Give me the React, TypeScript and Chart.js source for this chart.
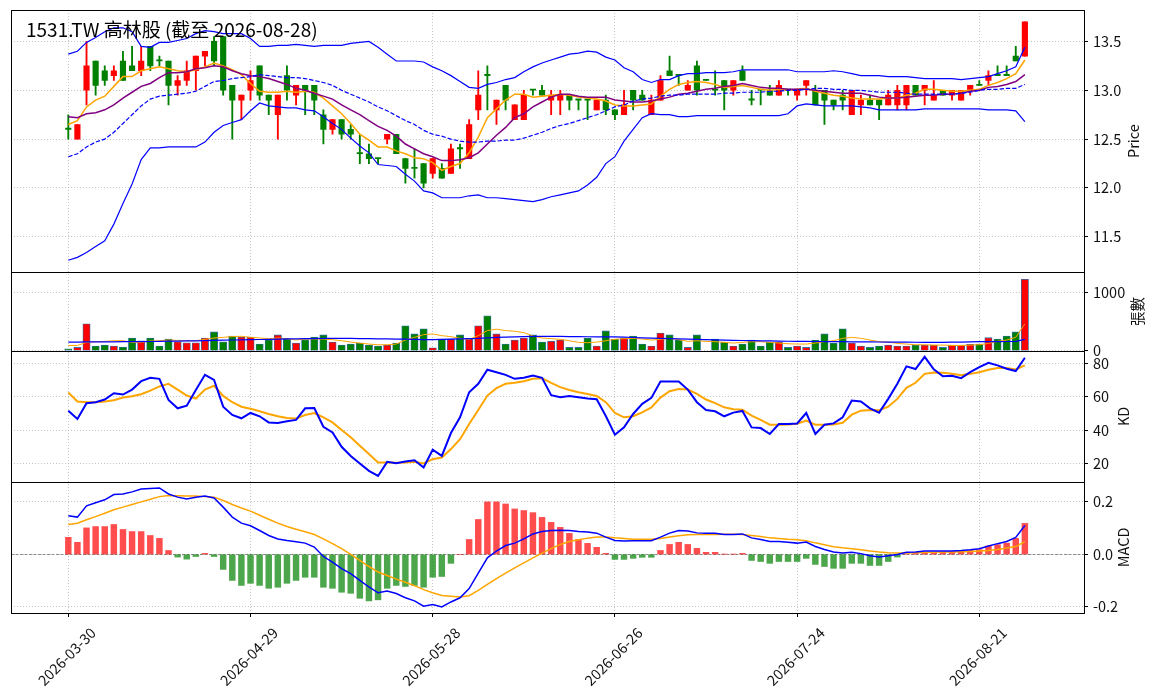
import React, { useEffect, useRef } from 'react';
import { Chart, registerables } from 'chart.js';

Chart.register(...registerables);

const TITLE = '1531.TW 高林股 (截至 2026-08-28)';
const TICK_POS = [0, 20, 40, 60, 80, 100];
const TICK_LABELS = ['2026-03-30', '2026-04-29', '2026-05-28', '2026-06-26', '2026-07-24', '2026-08-21'];

const PRICE_TICKS = [11.5, 12.0, 12.5, 13.0, 13.5];
const VOL_TICKS = [0, 1000];
const KD_TICKS = [20, 40, 60, 80];
const MACD_TICKS = [-0.2, 0.0, 0.2];

const OPEN = [
  12.6, 12.5, 13.0, 13.3, 13.2, 13.15, 13.3, 13.25, 13.2, 13.45,
  13.3, 13.3, 13.05, 13.1, 13.2, 13.35, 13.5, 13.55, 13.05, 12.9,
  13.0, 13.25, 12.95, 12.75, 13.15, 12.95, 13.05, 13.05, 12.75, 12.6,
  12.7, 12.6, 12.35, 12.35, 12.3, 12.5, 12.55, 12.3, 12.2, 12.25,
  12.15, 12.2, 12.15, 12.4, 12.3, 12.8, 13.15, 12.8, 13.05, 12.7,
  12.7, 13.0, 13.0, 12.9, 12.9, 12.95, 12.9, 12.9, 12.8, 12.9,
  12.8, 12.75, 13.0, 12.95, 12.75, 12.9, 13.2, 13.15, 13.0, 13.25,
  13.1, 13.0, 13.1, 13.0, 13.2, 12.9, 13.0, 13.0, 12.95, 13.0,
  12.95, 13.05, 13.0, 13.0, 12.9, 12.95, 12.75, 12.85, 12.9, 12.9,
  12.85, 12.85, 12.85, 13.05, 13.0, 12.9, 13.0, 12.95, 12.9, 13.0,
  13.05, 13.1, 13.15, 13.15, 13.35, 13.35,
];
const HIGH = [
  12.75, 12.65, 13.5, 13.3, 13.25, 13.25, 13.4, 13.45, 13.45, 13.45,
  13.35, 13.3, 13.15, 13.3, 13.35, 13.4, 13.55, 13.55, 13.05, 12.95,
  13.2, 13.25, 12.95, 12.95, 13.25, 13.05, 13.05, 13.05, 12.8, 12.7,
  12.7, 12.65, 12.55, 12.45, 12.3, 12.55, 12.55, 12.3, 12.4, 12.25,
  12.3, 12.25, 12.45, 12.45, 12.7, 13.2, 13.25, 12.9, 13.05, 12.85,
  13.0, 13.0, 13.05, 13.0, 13.0, 12.95, 12.9, 12.9, 12.9, 12.95,
  12.8, 13.0, 13.0, 13.0, 12.95, 13.15, 13.35, 13.15, 13.1, 13.3,
  13.1, 13.2, 13.1, 13.1, 13.25, 13.0, 13.0, 13.05, 13.1, 13.0,
  13.0, 13.1, 13.05, 13.0, 12.9, 13.0, 13.0, 12.95, 12.95, 12.9,
  13.0, 13.05, 13.05, 13.05, 13.05, 13.1, 13.0, 13.0, 13.0, 13.05,
  13.1, 13.2, 13.25, 13.25, 13.45, 13.7,
];
const LOW = [
  12.5, 12.5, 12.85, 12.95, 13.05, 13.1, 13.1, 13.2, 13.15, 13.2,
  13.25, 12.85, 12.95, 13.05, 13.0, 13.25, 13.25, 12.95, 12.5, 12.7,
  12.9, 12.9, 12.75, 12.5, 12.9, 12.85, 12.75, 12.75, 12.45, 12.55,
  12.5, 12.5, 12.25, 12.25, 12.25, 12.45, 12.35, 12.05, 12.1, 12.0,
  12.1, 12.1, 12.15, 12.2, 12.3, 12.7, 12.8, 12.65, 12.8, 12.7,
  12.7, 12.95, 12.95, 12.75, 12.75, 12.8, 12.8, 12.7, 12.8, 12.75,
  12.7, 12.75, 12.8, 12.9, 12.75, 12.9, 13.15, 13.05, 13.0, 12.95,
  13.1, 12.95, 12.8, 12.95, 13.1, 12.85, 12.85, 12.95, 12.95, 12.95,
  12.9, 12.95, 12.85, 12.65, 12.8, 12.8, 12.75, 12.75, 12.85, 12.7,
  12.85, 12.8, 12.8, 12.95, 12.85, 12.9, 12.95, 12.9, 12.9, 12.95,
  13.05, 13.05, 13.15, 13.15, 13.3, 13.35,
];
const CLOSE = [
  12.6, 12.65, 13.25, 13.05, 13.1, 13.2, 13.1, 13.2, 13.3, 13.25,
  13.3, 13.05, 13.1, 13.2, 13.35, 13.4, 13.3, 13.0, 12.9, 12.95,
  13.1, 12.95, 12.9, 12.95, 13.0, 13.05, 13.0, 12.9, 12.6, 12.7,
  12.55, 12.55, 12.35, 12.3, 12.3, 12.55, 12.35, 12.2, 12.2, 12.05,
  12.3, 12.1, 12.4, 12.4, 12.65, 12.95, 13.15, 12.9, 12.9, 12.85,
  12.95, 13.0, 12.95, 12.95, 12.95, 12.9, 12.9, 12.9, 12.9, 12.8,
  12.75, 12.85, 12.9, 12.9, 12.9, 13.1, 13.15, 13.15, 13.05, 13.0,
  13.1, 13.0, 13.0, 13.1, 13.1, 12.9, 13.0, 12.95, 13.05, 13.0,
  13.0, 13.1, 12.85, 12.9, 12.85, 12.9, 13.0, 12.9, 12.85, 12.85,
  12.95, 13.0, 13.05, 12.95, 13.05, 12.95, 12.95, 13.0, 13.0, 13.05,
  13.05, 13.15, 13.15, 13.15, 13.3, 13.7,
];

const MA5 = [
  12.65, 12.69, 12.83, 12.90, 12.94, 13.04, 13.14, 13.14, 13.20, 13.22,
  13.24, 13.22, 13.20, 13.19, 13.21, 13.24, 13.28, 13.25, 13.21, 13.16,
  13.07, 12.99, 12.98, 12.98, 12.99, 12.98, 12.99, 12.98, 12.92, 12.84,
  12.76, 12.66, 12.55, 12.49, 12.42, 12.42, 12.38, 12.35, 12.31, 12.30,
  12.26, 12.18, 12.22, 12.25, 12.36, 12.52, 12.72, 12.81, 12.90, 12.96,
  12.96, 12.93, 12.94, 12.95, 12.96, 12.95, 12.93, 12.92, 12.91, 12.89,
  12.85, 12.84, 12.84, 12.85, 12.86, 12.94, 13.01, 13.06, 13.08, 13.09,
  13.08, 13.06, 13.03, 13.04, 13.05, 13.03, 13.01, 13.00, 13.01, 13.00,
  13.01, 13.02, 12.99, 12.97, 12.95, 12.94, 12.92, 12.91, 12.91, 12.91,
  12.92, 12.92, 12.95, 12.97, 13.01, 13.01, 13.00, 12.99, 12.99, 13.00,
  13.01, 13.05, 13.08, 13.12, 13.17, 13.31,
];
const MA10 = [
  12.73, 12.72, 12.76, 12.77, 12.80, 12.85, 12.92, 12.98, 13.04, 13.07,
  13.13, 13.18, 13.18, 13.19, 13.22, 13.23, 13.25, 13.24, 13.20, 13.17,
  13.15, 13.14, 13.12, 13.09, 13.06, 13.02, 13.00, 12.97, 12.94, 12.91,
  12.85, 12.80, 12.75, 12.69, 12.63, 12.59, 12.53, 12.45, 12.40, 12.35,
  12.32, 12.28, 12.28, 12.29, 12.31, 12.36, 12.45, 12.54, 12.62, 12.72,
  12.76, 12.83, 12.88, 12.93, 12.96, 12.96, 12.94, 12.93, 12.93, 12.93,
  12.90, 12.89, 12.88, 12.88, 12.89, 12.91, 12.93, 12.96, 12.97, 12.99,
  13.01, 13.02, 13.04, 13.05, 13.07, 13.05, 13.03, 13.02, 13.02, 13.01,
  13.01, 13.01, 13.00, 12.99, 12.98, 12.97, 12.97, 12.97, 12.95, 12.93,
  12.92, 12.92, 12.93, 12.94, 12.95, 12.95, 12.96, 12.96, 12.97, 12.99,
  13.00, 13.03, 13.04, 13.06, 13.09, 13.16,
];
const BB_UPPER = [
  13.37, 13.40, 13.49, 13.54, 13.60, 13.64, 13.64, 13.60, 13.45, 13.44,
  13.49, 13.49, 13.51, 13.53, 13.58, 13.61, 13.60, 13.58, 13.58, 13.58,
  13.53, 13.45, 13.45, 13.46, 13.46, 13.47, 13.46, 13.45, 13.46, 13.46,
  13.46, 13.48, 13.49, 13.50, 13.44, 13.37, 13.30, 13.30, 13.30, 13.29,
  13.24, 13.20, 13.15, 13.09, 13.03, 13.02, 13.06, 13.08, 13.11, 13.13,
  13.19, 13.24, 13.28, 13.31, 13.34, 13.37, 13.38, 13.40, 13.39, 13.34,
  13.31, 13.23, 13.19, 13.11, 13.08, 13.11, 13.11, 13.15, 13.17, 13.17,
  13.18, 13.18, 13.18, 13.19, 13.21, 13.21, 13.21, 13.21, 13.21, 13.21,
  13.19, 13.19, 13.19, 13.19, 13.20, 13.19, 13.17, 13.15, 13.15, 13.15,
  13.14, 13.14, 13.14, 13.13, 13.12, 13.12, 13.12, 13.12, 13.11, 13.12,
  13.13, 13.14, 13.17, 13.20, 13.24, 13.44,
];
const BB_MID = [
  12.32, 12.35, 12.42, 12.47, 12.50, 12.57, 12.66, 12.75, 12.84, 12.91,
  12.94, 12.95, 12.96, 12.97, 12.99, 13.04, 13.09, 13.10, 13.12, 13.13,
  13.14, 13.16, 13.15, 13.14, 13.13, 13.13, 13.12, 13.10, 13.08, 13.05,
  13.00, 12.96, 12.92, 12.88, 12.83, 12.79, 12.74, 12.69, 12.65, 12.59,
  12.55, 12.53, 12.50, 12.48, 12.47, 12.47, 12.48, 12.48, 12.49, 12.49,
  12.51, 12.54, 12.57, 12.61, 12.64, 12.66, 12.69, 12.72, 12.75, 12.79,
  12.83, 12.85, 12.89, 12.91, 12.92, 12.94, 12.95, 12.95, 12.96, 12.96,
  12.96, 12.96, 12.97, 12.97, 12.98, 12.98, 12.98, 12.99, 12.99, 13.00,
  13.00, 13.01, 13.02, 13.02, 13.01, 13.01, 13.00, 13.00, 12.99, 12.98,
  12.98, 12.98, 12.97, 12.96, 12.96, 12.96, 12.96, 12.96, 12.97, 12.98,
  13.00, 13.01, 13.01, 13.02, 13.02, 13.06,
];
const BB_LOWER = [
  11.26, 11.29, 11.34, 11.40, 11.46, 11.63, 11.84, 12.04, 12.29, 12.41,
  12.41, 12.42, 12.42, 12.42, 12.42, 12.47, 12.57, 12.64, 12.67, 12.70,
  12.79, 12.87, 12.84, 12.83, 12.82, 12.82, 12.80, 12.79, 12.73, 12.66,
  12.60, 12.51, 12.43, 12.36, 12.24, 12.23, 12.22, 12.14, 12.07, 11.97,
  11.95, 11.90, 11.90, 11.90, 11.92, 11.93, 11.90, 11.90, 11.89, 11.88,
  11.87, 11.86, 11.88, 11.91, 11.93, 11.95, 11.97, 12.03, 12.11, 12.25,
  12.32, 12.48, 12.60, 12.72, 12.76, 12.75, 12.75, 12.73, 12.73, 12.74,
  12.74, 12.74, 12.74, 12.74, 12.74, 12.74, 12.74, 12.74, 12.74, 12.76,
  12.84, 12.86, 12.85, 12.84, 12.84, 12.84, 12.84, 12.83, 12.82, 12.80,
  12.80, 12.80, 12.80, 12.80, 12.81, 12.81, 12.81, 12.81, 12.81, 12.81,
  12.81, 12.80, 12.80, 12.80, 12.79, 12.68,
];

const VOLUME = [
  35, 58, 462, 81, 98, 81, 64, 220, 173, 220,
  81, 202, 156, 139, 139, 220, 324, 156, 254, 237,
  237, 116, 185, 272, 202, 133, 191, 237, 272, 150,
  98, 116, 133, 98, 81, 98, 133, 428, 289, 376,
  52, 202, 202, 272, 202, 428, 601, 289, 116, 185,
  220, 272, 150, 162, 185, 58, 58, 220, 81, 341,
  202, 220, 254, 116, 81, 306, 272, 185, 58, 272,
  0, 202, 150, 81, 116, 185, 81, 150, 150, 58,
  81, 58, 185, 289, 133, 376, 133, 81, 58, 81,
  98, 81, 81, 98, 98, 98, 58, 98, 98, 110,
  116, 225, 202, 254, 324, 1225,
];
const VOL_MA5 = [
  92, 92, 145, 156, 162, 173, 173, 145, 145, 168,
  173, 185, 179, 173, 173, 197, 220, 231, 243, 249,
  231, 220, 208, 220, 208, 185, 202, 202, 202, 191,
  173, 150, 133, 116, 104, 104, 116, 185, 231, 277,
  289, 260, 243, 214, 197, 260, 347, 370, 347, 335,
  312, 254, 220, 208, 197, 173, 145, 139, 150, 173,
  197, 208, 214, 202, 185, 197, 214, 191, 162, 173,
  162, 156, 145, 133, 145, 156, 156, 145, 133, 121,
  116, 116, 133, 156, 173, 214, 231, 214, 185, 156,
  150, 127, 116, 104, 104, 98, 98, 92, 92, 98,
  104, 127, 162, 185, 231, 462,
];
const VOL_MA20 = [
  150, 150, 152, 153, 154, 155, 156, 157, 158, 160,
  162, 165, 167, 170, 172, 175, 178, 182, 185, 188,
  191, 194, 197, 200, 203, 205, 208, 210, 212, 214,
  214, 212, 210, 208, 206, 204, 202, 200, 196, 193,
  191, 196, 200, 205, 210, 214, 222, 231, 236, 240,
  243, 246, 248, 249, 246, 244, 242, 241, 240, 240,
  238, 233, 228, 222, 218, 214, 208, 203, 199, 195,
  191, 188, 184, 180, 177, 173, 171, 169, 167, 164,
  162, 161, 160, 158, 157, 156, 155, 154, 153, 151,
  150, 149, 148, 147, 146, 145, 146, 148, 150, 152,
  156, 158, 159, 160, 162, 197,
];

const K_VALUES = [
  51.7, 46.7, 56.2, 56.8, 58.4, 62.2, 61.4, 64.4, 69.5, 71.5,
  70.9, 58.2, 53.1, 54.7, 64.2, 73.3, 70.3, 54.1, 49.1, 47.1,
  50.3, 48.3, 44.6, 44.2, 45.3, 46.1, 53.1, 53.3, 42.0, 38.6,
  29.9, 24.4, 19.8, 15.4, 12.3, 20.8, 20.0, 21.0, 21.8, 17.4,
  28.1, 24.4, 38.2, 47.7, 62.8, 67.9, 76.4, 74.9, 73.3, 70.9,
  71.5, 72.9, 71.5, 61.0, 59.8, 60.6, 59.8, 59.0, 58.6, 48.5,
  37.2, 41.6, 49.7, 55.8, 59.4, 69.3, 69.3, 69.3, 64.4, 56.8,
  52.1, 51.3, 48.3, 50.5, 51.5, 41.6, 41.2, 37.6, 43.6, 43.6,
  44.0, 50.3, 37.6, 43.2, 44.0, 47.7, 57.8, 57.2, 53.1, 50.5,
  58.8, 67.9, 78.4, 76.8, 84.2, 76.6, 72.5, 72.7, 71.3, 74.9,
  78.0, 80.6, 79.0, 77.0, 75.6, 83.6,
];
const D_VALUES = [
  62.6, 57.2, 56.8, 56.8, 57.2, 58.0, 59.6, 60.4, 61.6, 63.8,
  66.3, 67.9, 64.4, 60.8, 59.0, 64.4, 66.7, 60.6, 56.8, 54.1,
  52.9, 51.3, 49.7, 48.3, 47.3, 46.9, 49.1, 50.3, 47.7, 44.6,
  40.0, 35.6, 30.5, 25.5, 20.4, 20.4, 20.2, 20.4, 20.8, 19.8,
  22.4, 23.4, 28.5, 34.5, 43.6, 52.1, 60.8, 65.3, 67.9, 68.5,
  69.5, 70.9, 71.3, 68.4, 65.9, 64.2, 62.8, 61.8, 60.6, 56.8,
  50.3, 47.7, 48.3, 50.7, 53.7, 59.6, 63.4, 64.8, 64.4, 61.8,
  58.4, 56.2, 53.7, 52.5, 52.3, 48.7, 46.1, 43.2, 43.2, 43.4,
  43.8, 45.7, 43.2, 43.2, 43.4, 44.4, 49.3, 51.7, 52.1, 51.9,
  54.1, 58.8, 65.5, 68.5, 73.9, 74.7, 74.5, 73.9, 73.1, 73.9,
  74.9, 76.4, 77.4, 77.4, 76.6, 79.0,
];

const DIF = [
  0.147, 0.142, 0.185, 0.197, 0.208, 0.228, 0.230, 0.238, 0.249, 0.251,
  0.253, 0.230, 0.218, 0.211, 0.218, 0.222, 0.215, 0.180, 0.142, 0.119,
  0.109, 0.091, 0.072, 0.059, 0.053, 0.048, 0.043, 0.028, -0.008, -0.029,
  -0.054, -0.073, -0.099, -0.124, -0.146, -0.139, -0.149, -0.165, -0.177, -0.197,
  -0.191, -0.200, -0.181, -0.165, -0.130, -0.071, -0.013, 0.013, 0.034, 0.043,
  0.059, 0.078, 0.087, 0.091, 0.092, 0.091, 0.087, 0.085, 0.081, 0.066,
  0.053, 0.051, 0.052, 0.052, 0.052, 0.066, 0.081, 0.091, 0.089, 0.082,
  0.081, 0.081, 0.076, 0.076, 0.078, 0.063, 0.057, 0.049, 0.049, 0.046,
  0.043, 0.047, 0.030, 0.019, 0.009, 0.005, 0.008, 0.003, -0.005, -0.010,
  -0.005, 0.000, 0.008, 0.009, 0.013, 0.013, 0.013, 0.013, 0.015, 0.018,
  0.022, 0.032, 0.041, 0.049, 0.065, 0.110,
];
const SIGNAL = [
  0.114, 0.119, 0.132, 0.144, 0.157, 0.170, 0.180, 0.190, 0.200, 0.210,
  0.220, 0.224, 0.223, 0.222, 0.222, 0.220, 0.218, 0.205, 0.190, 0.177,
  0.165, 0.149, 0.134, 0.119, 0.106, 0.096, 0.086, 0.076, 0.059, 0.041,
  0.022, 0.000, -0.023, -0.046, -0.067, -0.080, -0.094, -0.106, -0.119, -0.134,
  -0.146, -0.156, -0.159, -0.162, -0.157, -0.137, -0.114, -0.092, -0.071, -0.051,
  -0.032, -0.013, 0.005, 0.022, 0.038, 0.049, 0.056, 0.062, 0.066, 0.066,
  0.063, 0.061, 0.058, 0.058, 0.058, 0.061, 0.066, 0.071, 0.075, 0.076,
  0.076, 0.076, 0.077, 0.077, 0.076, 0.072, 0.068, 0.063, 0.061, 0.058,
  0.056, 0.052, 0.044, 0.037, 0.029, 0.025, 0.022, 0.018, 0.013, 0.009,
  0.006, 0.005, 0.005, 0.006, 0.008, 0.008, 0.009, 0.009, 0.010, 0.011,
  0.013, 0.015, 0.019, 0.024, 0.030, 0.049,
];
const OSC = [
  0.065, 0.046, 0.101, 0.106, 0.106, 0.114, 0.095, 0.087, 0.087, 0.072,
  0.061, 0.015, -0.010, -0.018, -0.008, 0.004, -0.008, -0.057, -0.099, -0.118,
  -0.110, -0.118, -0.129, -0.125, -0.110, -0.099, -0.087, -0.087, -0.125, -0.129,
  -0.144, -0.148, -0.167, -0.177, -0.173, -0.129, -0.118, -0.122, -0.118, -0.125,
  -0.087, -0.084, -0.034, 0.000, 0.057, 0.133, 0.200, 0.200, 0.192, 0.173,
  0.167, 0.159, 0.141, 0.122, 0.103, 0.080, 0.057, 0.042, 0.027, 0.004,
  -0.019, -0.019, -0.015, -0.011, -0.011, 0.015, 0.038, 0.046, 0.038, 0.023,
  0.008, 0.008, 0.001, 0.001, 0.004, -0.023, -0.027, -0.034, -0.027, -0.027,
  -0.027, -0.015, -0.038, -0.046, -0.053, -0.053, -0.034, -0.034, -0.042, -0.042,
  -0.027, -0.010, 0.002, 0.004, 0.006, 0.008, 0.008, 0.010, 0.012, 0.015,
  0.018, 0.032, 0.037, 0.043, 0.061, 0.118,
];

const FONT = '"Noto Sans CJK TC", "Noto Sans", sans-serif';
const TICK_FONT_SIZE = 14.5;
const UP = '#ff0000';
const DOWN = '#008000';
const GRID_COLOR = '#b8b8b8';

function pts(arr: number[]) {
  return arr.map((y, i) => ({ x: i, y }));
}

function lineDs(label: string, arr: number[], axis: string, color: string, width: number, dash: number[] = []) {
  return {
    type: 'line' as const,
    label,
    data: pts(arr),
    yAxisID: axis,
    borderColor: color,
    backgroundColor: color,
    borderWidth: width,
    borderDash: dash,
    pointRadius: 0,
    pointHoverRadius: 0,
    fill: false,
    tension: 0,
    order: 1,
  };
}

function yAxis(min: number, max: number, ticks: number[], weight: number, fmt: (v: number) => string) {
  return {
    type: 'linear' as const,
    position: 'right' as const,
    stack: 'panels',
    stackWeight: weight,
    min,
    max,
    grid: {
      color: GRID_COLOR,
      lineWidth: 0.8,
      drawTicks: true,
      tickLength: 4,
      tickColor: '#000',
      tickWidth: 1,
      tickBorderDash: [],
    },
    border: { display: false, dash: [1, 2] },
    ticks: {
      color: '#111',
      font: { family: FONT, size: TICK_FONT_SIZE },
      padding: 5,
      autoSkip: false,
      maxRotation: 0,
      callback: (v: number) => fmt(Number(v)),
    },
    afterBuildTicks: (s: any) => {
      s.ticks = ticks.map((v) => ({ value: v }));
    },
    afterFit: (s: any) => {
      s.width = 71;
      s.paddingTop = 0;
      s.paddingBottom = 0;
    },
  };
}

const overlayPlugin = {
  id: 'overlay',
  beforeDatasetsDraw(chart: any) {
    const { ctx, chartArea } = chart;
    const ym = chart.scales.yM;
    const y0 = Math.round(ym.getPixelForValue(0)) + 0.5;
    ctx.save();
    ctx.strokeStyle = '#808080';
    ctx.lineWidth = 0.9;
    ctx.setLineDash([3, 1.5]);
    ctx.beginPath();
    ctx.moveTo(chartArea.left, y0);
    ctx.lineTo(chartArea.right, y0);
    ctx.stroke();
    ctx.restore();
  },
  afterDraw(chart: any) {
    const { ctx, chartArea } = chart;
    const left = Math.round(chartArea.left) + 0.5;
    const right = Math.round(chartArea.right) + 0.5;
    ctx.save();
    ctx.strokeStyle = '#000';
    ctx.lineWidth = 1;
    ctx.setLineDash([]);
    ['yP', 'yV', 'yK', 'yM'].forEach((id) => {
      const s = chart.scales[id];
      const t = Math.round(s.top) + 0.5;
      const b = Math.round(s.bottom) + 0.5;
      ctx.strokeRect(left, t, right - left, b - t);
    });

    // title
    ctx.fillStyle = '#000';
    ctx.font = `19px ${FONT}`;
    ctx.textAlign = 'left';
    ctx.textBaseline = 'alphabetic';
    ctx.fillText(TITLE, 26, 37);

    // y axis titles
    const titles: [string, string, number][] = [
      ['yP', 'Price', 1133],
      ['yV', '張數', 1137],
      ['yK', 'KD', 1123],
      ['yM', 'MACD', 1123],
    ];
    ctx.font = `${TICK_FONT_SIZE}px ${FONT}`;
    ctx.fillStyle = '#111';
    titles.forEach(([id, text, x]) => {
      const s = chart.scales[id];
      const cy = (s.top + s.bottom) / 2;
      ctx.save();
      ctx.translate(x, cy);
      ctx.rotate(-Math.PI / 2);
      ctx.textAlign = 'center';
      ctx.textBaseline = 'middle';
      ctx.fillText(text, 0, 0);
      ctx.restore();
    });

    // x tick labels, rotated 45 degrees and centred on the tick
    const xs = chart.scales.x;
    TICK_POS.forEach((v, i) => {
      const px = xs.getPixelForValue(v);
      ctx.save();
      ctx.translate(px - 1.5, 656.5);
      ctx.rotate(-Math.PI / 4);
      ctx.textAlign = 'center';
      ctx.textBaseline = 'middle';
      ctx.fillText(TICK_LABELS[i], 0, 0);
      ctx.restore();
    });
    ctx.restore();
  },
};

export default function App() {
  const ref = useRef<HTMLCanvasElement | null>(null);

  useEffect(() => {
    if (!ref.current) return;
    const idx = CLOSE.map((_, i) => i);
    const candleColors = idx.map((i) => (CLOSE[i] > OPEN[i] ? UP : DOWN));
    const oscColors = OSC.map((v) => (v >= 0 ? 'rgba(255,0,0,0.7)' : 'rgba(0,128,0,0.7)'));

    const datasets: any[] = [
      {
        type: 'bar',
        label: 'wick',
        data: idx.map((i) => ({ x: i, y: [LOW[i], HIGH[i]] })),
        yAxisID: 'yP',
        backgroundColor: candleColors,
        barThickness: 1.2,
        minBarLength: 1,
        grouped: false,
        order: 30,
      },
      {
        type: 'bar',
        label: 'body',
        data: idx.map((i) => ({ x: i, y: [OPEN[i], CLOSE[i]] })),
        yAxisID: 'yP',
        backgroundColor: candleColors,
        barThickness: 5.5,
        minBarLength: 1.2,
        grouped: false,
        order: 29,
      },
      lineDs('BB upper', BB_UPPER, 'yP', '#0000ff', 1.2),
      lineDs('BB mid', BB_MID, 'yP', '#0000ff', 1.2, [4.4, 1.9]),
      lineDs('BB lower', BB_LOWER, 'yP', '#0000ff', 1.2),
      lineDs('MA10', MA10, 'yP', '#800080', 1.5),
      lineDs('MA5', MA5, 'yP', '#ffa500', 1.5),
      {
        type: 'bar',
        label: 'volume',
        data: idx.map((i) => ({ x: i, y: VOLUME[i] })),
        yAxisID: 'yV',
        backgroundColor: candleColors,
        borderColor: '#2f6fa8',
        borderWidth: 0.8,
        borderSkipped: false,
        barThickness: 7.3,
        grouped: false,
        order: 30,
      },
      lineDs('vol MA20', VOL_MA20, 'yV', '#0000ff', 1.2),
      lineDs('vol MA5', VOL_MA5, 'yV', '#ffa500', 1.0),
      lineDs('K', K_VALUES, 'yK', '#0000ff', 2),
      lineDs('D', D_VALUES, 'yK', '#ffa500', 2),
      {
        type: 'bar',
        label: 'OSC',
        data: idx.map((i) => ({ x: i, y: OSC[i] })),
        yAxisID: 'yM',
        backgroundColor: oscColors,
        barThickness: 5.8,
        grouped: false,
        order: 30,
      },
      lineDs('DIF', DIF, 'yM', '#0000ff', 1.5),
      lineDs('MACD', SIGNAL, 'yM', '#ffa500', 1.5),
    ];

    const chart = new Chart(ref.current, {
      type: 'bar',
      data: { datasets },
      options: {
        animation: false,
        responsive: false,
        maintainAspectRatio: false,
        events: [],
        layout: { padding: { left: 11, top: 10, right: 0, bottom: 0 } },
        plugins: {
          legend: { display: false },
          tooltip: { enabled: false },
          title: { display: false },
        },
        scales: {
          x: {
            type: 'linear',
            min: -6.29,
            max: 111.49,
            offset: false,
            grid: {
              display: true,
              offset: false,
              color: GRID_COLOR,
              lineWidth: 0.8,
              drawTicks: true,
              tickLength: 4,
              tickColor: '#000',
              tickWidth: 1,
              tickBorderDash: [],
            },
            border: { display: false, dash: [1, 2] },
            ticks: { display: false },
            afterBuildTicks: (s: any) => {
              s.ticks = TICK_POS.map((v) => ({ value: v }));
            },
            afterFit: (s: any) => {
              s.height = 85;
              s.paddingLeft = 0;
              s.paddingRight = 0;
            },
          },
          yP: yAxis(11.138, 13.822, PRICE_TICKS, 2, (v) => v.toFixed(1)),
          yV: yAxis(0, 1347, VOL_TICKS, 0.6, (v) => String(Math.round(v))),
          yK: yAxis(8.7, 87.8, KD_TICKS, 1, (v) => String(Math.round(v))),
          yM: yAxis(-0.223, 0.276, MACD_TICKS, 1, (v) => v.toFixed(1)),
        } as any,
      },
      plugins: [overlayPlugin],
    } as any);

    return () => chart.destroy();
  }, []);

  return (
    <div style={{ position: 'absolute', left: 0, top: 0, width: 1155, height: 698, background: '#fff' }}>
      <canvas ref={ref} width={1155} height={698} style={{ display: 'block' }} />
    </div>
  );
}
